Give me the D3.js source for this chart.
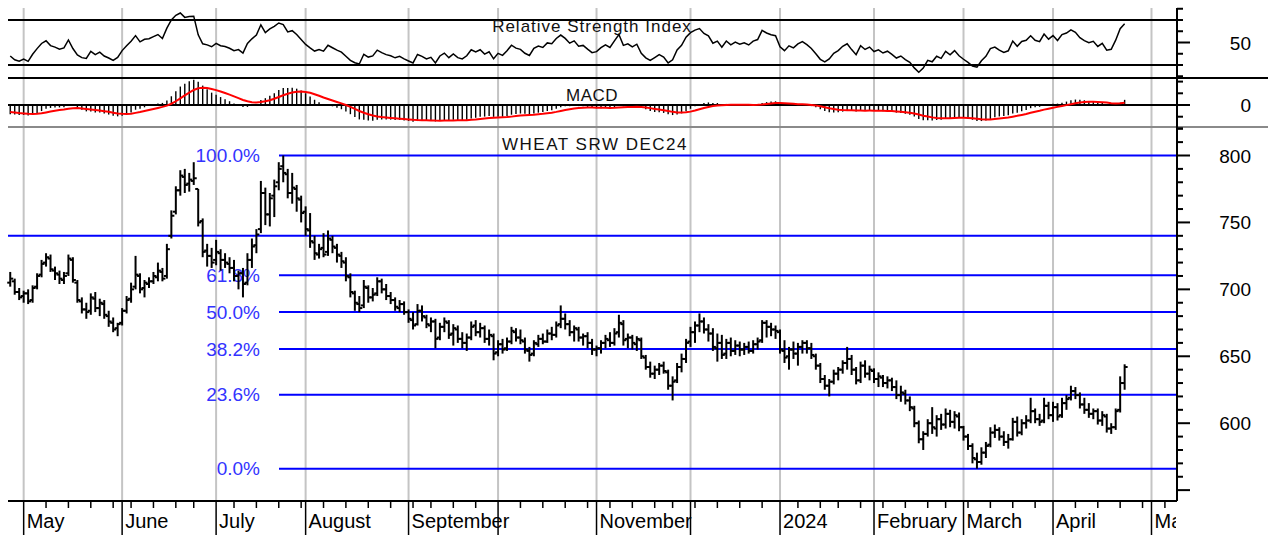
<!DOCTYPE html>
<html lang="en">
<head>
<meta charset="UTF-8">
<title>WHEAT SRW DEC24</title>
<script src="https://d3js.org/d3.v7.min.js"></script>
<style>
  body { margin: 0; background: #fff; }
  svg { display: block; font-family: "Liberation Sans", Arial, sans-serif; }
</style>
</head>
<body>
<svg id="chart" width="1268" height="535"></svg>
<script>
// day index 0 = 1 May 2023 (trading days only), first bar is 26 Apr 2023
const firstDay = -3;

const opens = [705, 706, 698,
  695, 697, 692, 702, 711, 720, 723, 714, 711, 707,
  712, 722, 705, 691, 685, 684, 693, 686, 689, 680,
  675, 671, 675, 684, 693, 702, 710, 701, 704, 706,
  709, 713, 710, 740, 758, 774, 784, 779, 781, 775,
  751, 729, 725, 722, 727, 722, 719, 716, 710, 712,
  705, 722, 733, 745, 772, 756, 770, 780, 792, 786,
  772, 775, 767, 758, 744, 735, 726, 731, 728, 737,
  731, 725, 720, 709, 697, 689, 688, 701, 694, 697,
  706, 700, 695, 692, 686, 689, 683, 677, 674, 684,
  679, 673, 676, 664, 672, 675, 667, 670, 663, 660,
  664, 673, 668, 671, 663, 665, 653, 659, 656, 661,
  668, 664, 661, 654, 652, 659, 663, 661, 667, 666,
  674, 678, 674, 668, 670, 664, 665, 660, 655, 656,
  660, 662, 660, 668, 674, 663, 664, 659, 662, 649,
  642, 637, 640, 643, 638, 628, 632, 642, 648, 661,
  668, 673, 676, 670, 667, 656, 660, 652, 660, 654,
  658, 655, 657, 654, 659, 662, 675, 672, 670, 668,
  654, 650, 655, 652, 657, 660, 656, 650, 643, 633,
  628, 631, 637, 640, 645, 648, 640, 632, 643, 637,
  639, 633, 634, 630, 632, 627, 621, 622, 617, 611,
  600, 588, 592, 600, 596, 603, 599, 607, 601, 605,
  597, 590, 583, 573, 571, 578, 584, 593, 595, 590,
  586, 588, 601, 593, 600, 602, 609, 603, 602, 613,
  606, 612, 606, 615, 619, 624, 621, 614, 610, 607,
  609, 602, 605, 596, 597, 610, 630];

const highs = [713, 708, 701,
  699, 700, 703, 712, 722, 727, 726, 717, 714, 713,
  726, 724, 707, 694, 690, 697, 698, 693, 692, 684,
  679, 675, 686, 695, 705, 725, 712, 707, 709, 713,
  720, 716, 734, 759, 777, 789, 790, 787, 795, 775,
  753, 734, 731, 737, 730, 727, 724, 722, 714, 716,
  727, 738, 745, 781, 776, 772, 782, 795, 800, 790,
  787, 778, 770, 762, 757, 740, 734, 742, 744, 740,
  734, 728, 724, 712, 699, 695, 707, 703, 701, 709,
  708, 704, 698, 694, 692, 691, 685, 683, 689, 688,
  681, 679, 678, 675, 679, 677, 674, 673, 668, 667,
  676, 677, 675, 673, 670, 667, 662, 663, 664, 672,
  671, 670, 664, 657, 662, 666, 667, 670, 672, 676,
  688, 682, 677, 673, 672, 667, 668, 663, 658, 662,
  666, 668, 671, 681, 677, 667, 666, 665, 664, 651,
  646, 643, 645, 646, 640, 635, 645, 652, 663, 672,
  676, 682, 679, 674, 671, 667, 666, 663, 664, 662,
  661, 660, 661, 662, 664, 677, 677, 675, 673, 670,
  662, 657, 661, 660, 662, 662, 660, 652, 645, 636,
  633, 640, 642, 647, 657, 651, 642, 646, 647, 643,
  641, 638, 636, 635, 634, 632, 628, 625, 620, 613,
  602, 594, 603, 612, 606, 607, 611, 610, 609, 608,
  598, 592, 585, 578, 582, 586, 597, 599, 597, 594,
  592, 604, 605, 603, 606, 619, 611, 607, 619, 616,
  616, 615, 619, 621, 628, 627, 623, 619, 615, 611,
  611, 609, 607, 600, 611, 635, 644];

const lows = [702, 696, 692,
  690, 689, 690, 700, 709, 717, 713, 707, 704, 704,
  710, 705, 690, 682, 678, 681, 683, 680, 678, 672,
  668, 665, 673, 682, 690, 700, 697, 694, 701, 704,
  706, 706, 708, 738, 756, 770, 772, 773, 778, 747,
  724, 717, 716, 718, 714, 716, 712, 706, 700, 694,
  703, 716, 727, 742, 748, 747, 754, 774, 780, 768,
  764, 758, 750, 740, 731, 722, 723, 724, 725, 727,
  720, 716, 706, 694, 684, 683, 686, 690, 691, 695,
  697, 692, 689, 684, 683, 681, 675, 670, 673, 676,
  671, 668, 656, 662, 668, 663, 658, 660, 656, 654,
  662, 665, 664, 660, 658, 647, 650, 652, 654, 659,
  661, 659, 652, 646, 650, 657, 659, 660, 662, 664,
  671, 670, 665, 661, 661, 658, 656, 651, 650, 652,
  656, 657, 658, 664, 658, 656, 655, 654, 648, 640,
  634, 633, 636, 637, 625, 617, 630, 638, 645, 657,
  660, 668, 667, 661, 654, 646, 648, 648, 650, 651,
  650, 651, 652, 652, 655, 660, 664, 665, 663, 652,
  645, 640, 648, 643, 652, 652, 648, 640, 630, 625,
  620, 629, 632, 637, 640, 636, 629, 630, 634, 632,
  630, 627, 627, 626, 624, 618, 616, 614, 609, 597,
  585, 580, 590, 592, 590, 595, 596, 597, 596, 594,
  587, 580, 570, 566, 569, 574, 582, 589, 587, 583,
  581, 587, 590, 591, 596, 600, 600, 598, 600, 603,
  601, 602, 604, 610, 617, 618, 611, 607, 604, 603,
  599, 598, 593, 592, 595, 608, 625];

const closes = [708, 698, 694,
  697, 691, 701, 710, 719, 724, 715, 712, 708, 710,
  723, 707, 692, 685, 683, 694, 686, 690, 681, 676,
  670, 674, 684, 692, 700, 711, 700, 705, 706, 710,
  714, 708, 730, 755, 774, 785, 778, 782, 783, 750,
  728, 725, 720, 728, 722, 720, 716, 710, 712, 704,
  722, 732, 741, 772, 756, 768, 777, 790, 787, 772,
  776, 768, 757, 745, 736, 727, 730, 726, 738, 732,
  726, 721, 710, 698, 690, 686, 702, 694, 696, 706,
  700, 695, 692, 687, 689, 683, 678, 673, 684, 680,
  674, 676, 663, 672, 676, 666, 671, 663, 660, 664,
  672, 668, 671, 663, 666, 652, 659, 655, 661, 669,
  664, 662, 655, 651, 660, 663, 661, 667, 666, 673,
  678, 674, 668, 671, 664, 665, 660, 655, 656, 660,
  663, 660, 667, 675, 662, 664, 660, 663, 650, 642,
  637, 640, 643, 639, 628, 631, 642, 648, 660, 668,
  673, 676, 670, 667, 657, 660, 651, 660, 654, 658,
  655, 657, 654, 659, 661, 675, 672, 670, 669, 655,
  649, 655, 652, 657, 660, 656, 651, 643, 633, 628,
  631, 637, 640, 645, 648, 640, 632, 643, 637, 640,
  633, 635, 630, 632, 627, 621, 623, 617, 612, 600,
  588, 592, 600, 597, 603, 599, 607, 601, 606, 597,
  590, 583, 574, 571, 578, 583, 593, 595, 590, 586,
  588, 601, 593, 600, 602, 609, 603, 601, 613, 606,
  612, 605, 615, 618, 624, 621, 614, 610, 607, 609,
  602, 606, 596, 597, 609, 630, 642];

const monthStarts = [0, 22, 43, 63, 86, 106, 128, 149, 169, 190, 210, 230, 252];
const monthLabels = ["May", "June", "July", "August", "September", "", "November", "", "2024", "February", "March", "April", "May"];
const weekStarts = [0, 5, 10, 15, 20, 24, 29, 34, 38, 43, 47, 52, 57, 62, 67, 72, 77, 82,
  87, 91, 96, 101, 106, 111, 116, 121, 126, 131, 136, 141, 145, 150, 155, 160, 165,
  169, 173, 178, 182, 187, 192, 197, 202, 206, 211, 216, 221, 226, 230, 235, 240, 245, 250, 255];

const fibLevels = [1, 0.618, 0.5, 0.382, 0.236, 0];
const fibLabels = ["100.0%", "61.8%", "50.0%", "38.2%", "23.6%", "0.0%"];
const fibHigh = 800, fibLow = 566;
const trendLevel = 740;

const priceTicks = [600, 650, 700, 750, 800];
const rsiBands = [70, 30];
const rsiStart = 38, macdStart = -8, signalStart = -6;

// ---- indicators from the closes
function wilderRsi(values, period, start) {
  let avgLoss = 5, avgGain = avgLoss * start / (100 - start);
  return values.map((v, k) => {
    if (k > 0) {
      const ch = v - values[k - 1];
      avgGain = (avgGain * (period - 1) + Math.max(ch, 0)) / period;
      avgLoss = (avgLoss * (period - 1) + Math.max(-ch, 0)) / period;
    }
    return 100 - 100 / (1 + avgGain / avgLoss);
  });
}
function ema(values, period, seed) {
  const a = 2 / (period + 1);
  let e = seed;
  return values.map((v, k) => (k === 0 ? e : (e = e + a * (v - e))));
}
const rsi = wilderRsi(closes, 14, rsiStart);
const ema12 = ema(closes, 12, closes[0]);
const ema26 = ema(closes, 26, closes[0] - macdStart);
const macd = ema12.map((v, k) => v - ema26[k]);
const signal = ema(macd, 9, signalStart);

const bars = closes.map((c, k) => ({ day: firstDay + k, o: opens[k], h: highs[k], l: lows[k], c: c }));

// ---- layout
const svg = d3.select('#chart');
const plotLeft = 8, plotRight = 1177, plotTop = 8, plotBottom = 501;

const x = d3.scaleLinear().domain([-3.5, 257.7]).range([plotLeft, plotRight]);
const yRsi = d3.scaleLinear().domain([30, 70]).range([65, 20]);
const yMacd = d3.scaleLinear().domain([-20, 20]).range([128.4, 81.6]);
const yPrice = d3.scaleLinear().domain([600, 800]).range([423.2, 155.5]);

// month grid
svg.append('g').selectAll('line')
  .data(monthStarts)
  .join('line')
  .attr('x1', d => x(d)).attr('x2', d => x(d))
  .attr('y1', plotTop).attr('y2', plotBottom)
  .attr('stroke', '#c4c4c4').attr('stroke-width', 2);

function hline(y, x1, x2, color, w) {
  svg.append('line')
    .attr('x1', x1).attr('x2', x2).attr('y1', y).attr('y2', y)
    .attr('stroke', color).attr('stroke-width', w);
}

// ---- RSI panel
rsiBands.forEach(v => hline(yRsi(v), plotLeft, plotRight + 5, '#000', 2));
hline(78, plotLeft, 1268, '#000', 2);

svg.append('text')
  .attr('x', 592).attr('y', 32).attr('text-anchor', 'middle')
  .attr('font-size', 17).attr('letter-spacing', 1).attr('fill', '#111')
  .text('Relative Strength Index');

svg.append('path')
  .datum(rsi)
  .attr('fill', 'none').attr('stroke', '#000').attr('stroke-width', 1.5)
  .attr('d', d3.line().x((d, k) => x(firstDay + k)).y(d => yRsi(d)));

// ---- MACD panel
hline(yMacd(0), plotLeft, plotRight, '#000', 2);
hline(127, plotLeft, 1268, '#8a8a8a', 2);

svg.append('text')
  .attr('x', 592).attr('y', 101).attr('text-anchor', 'middle')
  .attr('font-size', 17).attr('letter-spacing', 0.5).attr('fill', '#111')
  .text('MACD');

svg.append('g').selectAll('line')
  .data(macd)
  .join('line')
  .attr('x1', (d, k) => x(firstDay + k)).attr('x2', (d, k) => x(firstDay + k))
  .attr('y1', yMacd(0)).attr('y2', d => yMacd(d))
  .attr('stroke', '#000').attr('stroke-width', 1.4);

svg.append('path')
  .datum(signal)
  .attr('fill', 'none').attr('stroke', '#ff0000').attr('stroke-width', 2)
  .attr('d', d3.line().x((d, k) => x(firstDay + k)).y(d => yMacd(d)));

// ---- price panel
hline(yPrice(trendLevel), plotLeft, plotRight, '#0000ff', 2);

const fib = svg.append('g');
fibLevels.forEach((f, k) => {
  const y = yPrice(fibLow + f * (fibHigh - fibLow));
  fib.append('line')
    .attr('x1', 279).attr('x2', plotRight).attr('y1', y).attr('y2', y)
    .attr('stroke', '#0000ff').attr('stroke-width', 2);
  fib.append('text')
    .attr('x', 260).attr('y', y + 6.5).attr('text-anchor', 'end')
    .attr('font-size', 19).attr('fill', '#3333ff')
    .text(fibLabels[k]);
});

svg.append('text')
  .attr('x', 595).attr('y', 150).attr('text-anchor', 'middle')
  .attr('font-size', 17).attr('letter-spacing', 1.5).attr('fill', '#111')
  .text('WHEAT SRW DEC24');

const ohlc = svg.append('g').attr('stroke', '#000');
ohlc.selectAll('line.hl')
  .data(bars)
  .join('line').attr('class', 'hl')
  .attr('x1', d => x(d.day)).attr('x2', d => x(d.day))
  .attr('y1', d => yPrice(d.h)).attr('y2', d => yPrice(d.l))
  .attr('stroke-width', 2);
ohlc.selectAll('line.op')
  .data(bars)
  .join('line').attr('class', 'op')
  .attr('x1', d => x(d.day) - 3).attr('x2', d => x(d.day))
  .attr('y1', d => yPrice(d.o)).attr('y2', d => yPrice(d.o))
  .attr('stroke-width', 2);
ohlc.selectAll('line.cl')
  .data(bars)
  .join('line').attr('class', 'cl')
  .attr('x1', d => x(d.day)).attr('x2', d => x(d.day) + 3)
  .attr('y1', d => yPrice(d.c)).attr('y2', d => yPrice(d.c))
  .attr('stroke-width', 2);

// ---- right axis
const axisG = svg.append('g');
axisG.append('line')
  .attr('x1', plotRight).attr('x2', plotRight).attr('y1', plotTop).attr('y2', plotBottom)
  .attr('stroke', '#000').attr('stroke-width', 2);

function ticks(values, scale, major) {
  axisG.append('g').selectAll('line')
    .data(values)
    .join('line')
    .attr('x1', plotRight).attr('x2', d => plotRight + (major(d) ? 13 : 6))
    .attr('y1', d => scale(d)).attr('y2', d => scale(d))
    .attr('stroke', '#000').attr('stroke-width', 2);
}
ticks(d3.range(20, 81, 10), yRsi, d => d === 50);
ticks(d3.range(-20, 21, 10), yMacd, d => d === 0);
ticks(d3.range(550, 821, 10), yPrice, d => d % 50 === 0);

const labels = [{ t: '50', y: yRsi(50) }, { t: '0', y: yMacd(0) }]
  .concat(priceTicks.map(p => ({ t: String(p), y: yPrice(p) })));
axisG.append('g').selectAll('text')
  .data(labels)
  .join('text')
  .attr('x', 1251).attr('y', d => d.y + 7).attr('text-anchor', 'end')
  .attr('font-size', 19).attr('fill', '#000')
  .text(d => d.t);

// ---- time axis
const timeG = svg.append('g');
timeG.append('line')
  .attr('x1', plotLeft).attr('x2', plotRight).attr('y1', plotBottom).attr('y2', plotBottom)
  .attr('stroke', '#000').attr('stroke-width', 2);
timeG.selectAll('line.wk')
  .data(weekStarts.filter(d => !monthStarts.includes(d)))
  .join('line').attr('class', 'wk')
  .attr('x1', d => x(d)).attr('x2', d => x(d))
  .attr('y1', plotBottom).attr('y2', plotBottom + 7)
  .attr('stroke', '#000').attr('stroke-width', 1.5);

svg.append('clipPath').attr('id', 'timeClip')
  .append('rect').attr('x', 0).attr('y', plotBottom).attr('width', plotRight - 1).attr('height', 40);
timeG.append('g').attr('clip-path', 'url(#timeClip)')
  .selectAll('text')
  .data(monthStarts)
  .join('text')
  .attr('x', d => x(d) + 3).attr('y', 528)
  .attr('font-size', 20).attr('fill', '#000')
  .text((d, k) => monthLabels[k]);

timeG.selectAll('line.mo')
  .data(monthStarts)
  .join('line').attr('class', 'mo')
  .attr('x1', d => x(d)).attr('x2', d => x(d))
  .attr('y1', plotBottom).attr('y2', 535)
  .attr('stroke', '#000').attr('stroke-width', 1.5);
</script>
</body>
</html>
